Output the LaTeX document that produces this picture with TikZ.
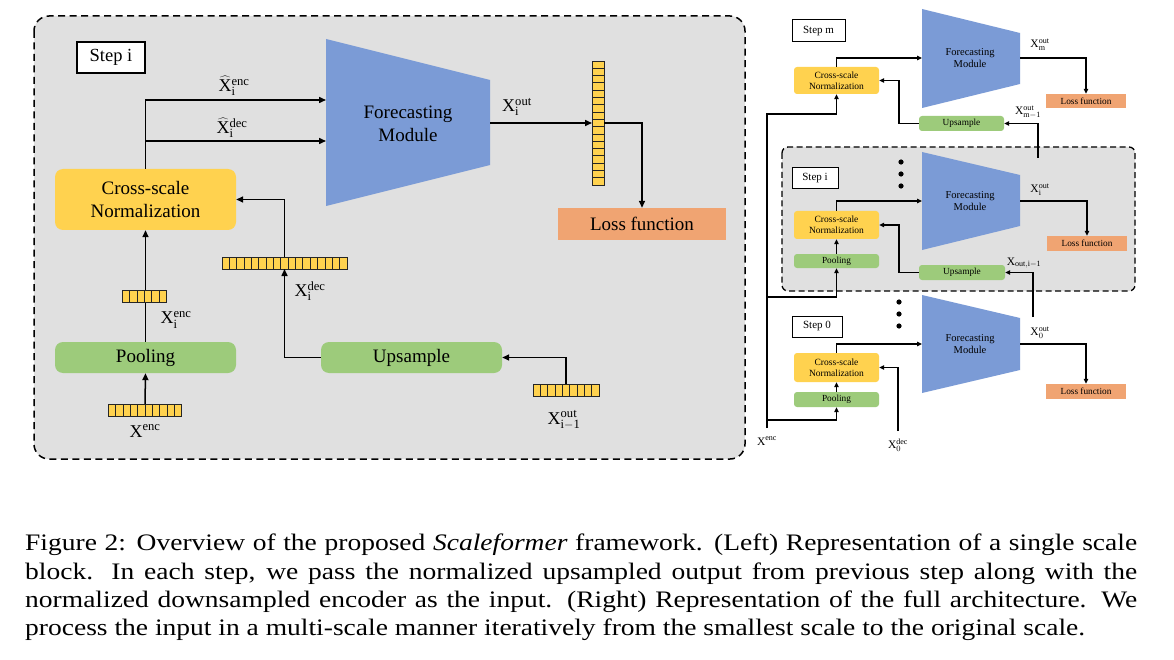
\documentclass[tikz,border=0pt]{standalone}
\usepackage{fontspec}
\setmainfont{Liberation Serif}
\usetikzlibrary{arrows.meta,calc}
\definecolor{panelgray}{HTML}{E0E0E0}
\definecolor{ynorm}{HTML}{FFD24F}
\definecolor{bfm}{HTML}{7B9BD6}
\definecolor{gboxc}{HTML}{9DCB7B}
\definecolor{oloss}{HTML}{F0A472}
\newcommand{\hvec}[4]{%
  \node[inner sep=0pt, outer sep=0pt, minimum width={#4*7.35pt}, minimum height=12pt] (#1) at (#2,#3) {};
  \foreach \k in {1,...,#4}{\draw[cellst] ($(#1.south west)+({(\k-1)*7.35},0)$) rectangle ++(7.35,-12);}%
}
\newcommand{\vvec}[4]{%
  \node[inner sep=0pt, outer sep=0pt, minimum width=12pt, minimum height={#4*7.3pt}] (#1) at (#2,#3) {};
  \foreach \k in {1,...,#4}{\draw[cellst] ($(#1.north west)+(0,{(\k-1)*7.3})$) rectangle ++(12,7.3);}%
}
\newcommand{\capfont}{\fontsize{27.5}{30}\selectfont}
\newcommand{\capjust}[1]{\scalebox{1}[0.86]{\capfont\hbox to 1112pt{#1}}}
\newcommand{\capnat}[1]{\scalebox{1}[0.86]{\capfont #1}}
\tikzset{
  cellst/.style={draw=black!85, fill=ynorm, line width=0.8pt},
  arrL/.style={line width=1.5pt, -{Triangle[length=7pt,width=6pt]}},
  arrR/.style={line width=1.2pt, -{Triangle[length=5pt,width=4.5pt]}},
  panelL/.style={draw, dashed, dash pattern=on 7pt off 4.5pt, line width=1.5pt, rounded corners=15pt, fill=panelgray},
  panelR/.style={draw, dashed, dash pattern=on 6pt off 3.5pt, line width=1.3pt, rounded corners=6pt, fill=panelgray},
  stepL/.style={draw, line width=1.3pt, fill=white, inner sep=0pt, font=\fontsize{18.5}{22}\selectfont},
  stepR/.style={draw, line width=1pt, fill=white, inner sep=0pt, font=\fontsize{11}{13}\selectfont},
  normL/.style={fill=ynorm, rounded corners=8pt, inner sep=0pt, align=center, font=\fontsize{19}{23}\selectfont},
  normR/.style={fill=ynorm, rounded corners=3pt, inner sep=0pt, align=center, font=\fontsize{9.5}{11}\selectfont},
  greenL/.style={fill=gboxc, rounded corners=8pt, inner sep=0pt, font=\fontsize{19}{23}\selectfont},
  greenR/.style={fill=gboxc, rounded corners=3pt, inner sep=0pt, font=\fontsize{9.3}{11}\selectfont},
  lossL/.style={fill=oloss, inner sep=0pt, font=\fontsize{19}{23}\selectfont},
  lossR/.style={fill=oloss, inner sep=0pt, font=\fontsize{9.3}{11}\selectfont},
  fmtextL/.style={align=center, font=\fontsize{19}{23}\selectfont},
  fmtextR/.style={align=center, font=\fontsize{10.5}{12.5}\selectfont},
  labL/.style={inner sep=0pt, font=\fontsize{18}{21}\selectfont},
  labR/.style={inner sep=0pt, font=\fontsize{11.5}{13}\selectfont},
  capline/.style={anchor=base west, inner sep=0pt},
}
\begin{document}
\begin{tikzpicture}[x=1pt,y=-1pt]
\useasboundingbox[fill=white] (0,0) rectangle (1174,660);

% ================= LEFT PANEL =================
\draw[panelL] (34,16) rectangle (745,459);
\node[stepL, minimum width=68pt, minimum height=31pt] (stepi) at (111,57.5) {Step i};

\fill[bfm] (326,39) -- (490,80) -- (490,165) -- (326,206) -- cycle;
\node[fmtextL] (fmL) at (408,123.5) {Forecasting\\Module};
\coordinate (fmLin1) at (326,100);
\coordinate (fmLin2) at (326,141);
\coordinate (fmLout) at (490,123);

\node[normL, minimum width=181pt, minimum height=61pt] (nL) at (145.5,199.5) {Cross-scale\\Normalization};
\node[greenL, minimum width=181pt, minimum height=31pt] (poolL) at (145.5,357.5) {Pooling};
\node[greenL, minimum width=181pt, minimum height=31pt] (upL) at (411.5,357.5) {Upsample};
\node[lossL, minimum width=168pt, minimum height=32pt] (lossL) at (642,224) {Loss function};

% connectors (drawn before vectors)
\draw[arrL] (nL.north) |- (fmLin1);
\draw[arrL] (nL.north |- fmLin2) -- (fmLin2);
\draw[arrL] (poolL.north) -- (nL.south);

\hvec{encI}{144.5}{296}{6}
\hvec{encV}{145}{410}{10}
\hvec{decV}{284.5}{263}{17}
\hvec{outP}{566}{390}{9}
\vvec{outV}{598}{123}{17}

\draw[arrL] (encV.north) -- (poolL.south);
\draw[arrL] (upL.west) -| (decV.south);
\draw[arrL] (decV.north) |- (nL.east);
\draw[arrL] (outP.north) |- (upL.east);
\draw[arrL] (fmLout) -- (outV.west);
\draw[arrL] (outV.east) -| (lossL.north);

\node[labL] (lhenc) at (234,86) {$\widehat{\mathrm{X}}_{\mathrm{i}}^{\mathrm{enc}}$};
\node[labL] (lhdec) at (232,128) {$\widehat{\mathrm{X}}_{\mathrm{i}}^{\mathrm{dec}}$};
\node[labL] (lout) at (517,107) {$\mathrm{X}_{\mathrm{i}}^{\mathrm{out}}$};
\node[labL] (lenci) at (176,320) {$\mathrm{X}_{\mathrm{i}}^{\mathrm{enc}}$};
\node[labL] (lenc) at (145,431) {$\mathrm{X}^{\mathrm{enc}}$};
\node[labL] (ldec) at (310,291) {$\mathrm{X}_{\mathrm{i}}^{\mathrm{dec}}$};
\node[labL] (lprev) at (564,420) {$\mathrm{X}_{\mathrm{i-1}}^{\mathrm{out}}$};

% ================= RIGHT PANEL =================
% step m
\node[stepR, minimum width=53pt, minimum height=22pt] (stepm) at (818.5,31) {Step m};
\fill[bfm] (922,9) -- (1020,33) -- (1020,84) -- (922,108) -- cycle;
\node[fmtextR] (fmM) at (970,58) {Forecasting\\Module};
\coordinate (fmMin) at (922,58);
\coordinate (fmMout) at (1020,58);
\node[normR, minimum width=85pt, minimum height=27pt] (nM) at (836.5,80.5) {Cross-scale\\Normalization};
\node[lossR, minimum width=80pt, minimum height=14pt] (lossM) at (1086,101) {Loss function};
\node[greenR, minimum width=85pt, minimum height=15pt] (upM) at (961.5,123.5) {Upsample};
\coordinate (bendR) at (899,0);

% step i panel
\draw[panelR] (782,147) rectangle (1135,291);
\foreach \yy in {162,174,186} \fill (901,\yy) circle (2.6);
\node[stepR, minimum width=46pt, minimum height=21pt] (stepi2) at (815,178.5) {Step i};
\fill[bfm] (922,152) -- (1020,175) -- (1020,226) -- (922,250) -- cycle;
\node[fmtextR] (fmI) at (970,201) {Forecasting\\Module};
\coordinate (fmIin) at (922,201);
\coordinate (fmIout) at (1020,201);
\node[normR, minimum width=85pt, minimum height=28pt] (nI) at (836.5,225) {Cross-scale\\Normalization};
\node[greenR, minimum width=85pt, minimum height=14pt] (poolI) at (836.5,261) {Pooling};
\node[lossR, minimum width=80pt, minimum height=15pt] (lossI) at (1087,243.5) {Loss function};
\node[greenR, minimum width=86pt, minimum height=15pt] (upI) at (962,272.5) {Upsample};

% step 0
\foreach \yy in {302,314,326} \fill (899,\yy) circle (2.6);
\node[stepR, minimum width=50pt, minimum height=21pt] (step0) at (817,326.5) {Step 0};
\fill[bfm] (922,295) -- (1020,318) -- (1020,370) -- (922,393) -- cycle;
\node[fmtextR] (fm0) at (970,344) {Forecasting\\Module};
\coordinate (fm0in) at (922,344);
\coordinate (fm0out) at (1020,344);
\node[normR, minimum width=85pt, minimum height=29pt] (n0) at (836.5,367.5) {Cross-scale\\Normalization};
\node[greenR, minimum width=85pt, minimum height=15pt] (pool0) at (836.5,399.5) {Pooling};
\node[lossR, minimum width=80pt, minimum height=15pt] (loss0) at (1086,391.5) {Loss function};

% right connectors
\draw[arrR] (nM.north) |- (fmMin);
\draw[arrR] (fmMout) -| (lossM.north);
\draw[arrR] (upM.west) -- (upM.west -| bendR) |- (nM.east);
\coordinate (outIup) at (1038,158);
\draw[arrR] (outIup) |- (upM.east);

\draw[arrR] (poolI.north) -- (nI.south);
\draw[arrR] (nI.north) |- (fmIin);
\draw[arrR] (fmIout) -| (lossI.north);
\draw[arrR] (upI.west) -- (upI.west -| bendR) |- (nI.east);
\coordinate (out0up) at (1033,317);
\draw[arrR] (out0up) |- (upI.east);

\draw[arrR] (pool0.north) -- (n0.south);
\draw[arrR] (n0.north) |- (fm0in);
\draw[arrR] (fm0out) -| (loss0.north);
\coordinate (dec0) at (898,431);
\draw[arrR] (dec0) |- (n0.east);

\coordinate (encR) at (767,428);
\coordinate (encTop) at (767,114);
\coordinate (encI) at (767,297);
\coordinate (enc0) at (767,420);
\draw[arrR] (encR) -- (encTop) -| (nM.south);
\draw[arrR] (encI) -| (poolI.south);
\draw[arrR] (enc0) -| (pool0.south);

\node[labR] (lmout) at (1040,45) {$\mathrm{X}_{\mathrm{m}}^{\mathrm{out}}$};
\node[labR] (lmprev) at (1028,112) {$\mathrm{X}_{\mathrm{m-1}}^{\mathrm{out}}$};
\node[labR] (liout) at (1040,190) {$\mathrm{X}_{\mathrm{i}}^{\mathrm{out}}$};
\node[labR] (liprev) at (1024,263) {$\mathrm{X}_{\mathrm{out,i-1}}$};
\node[labR] (l0out) at (1040,333) {$\mathrm{X}_{0}^{\mathrm{out}}$};
\node[labR] (l0dec) at (898,445) {$\mathrm{X}_{0}^{\mathrm{dec}}$};
\node[labR] (lRenc) at (767,441) {$\mathrm{X}^{\mathrm{enc}}$};

% ================= CAPTION =================
\node[capline] (cap1) at (25,550) {\capjust{Figure 2: Overview of the proposed \textit{Scaleformer} framework. (Left) Representation of a single scale}};
\node[capline] (cap2) at (25,579) {\capjust{block. In each step, we pass the normalized upsampled output from previous step along with the}};
\node[capline] (cap3) at (25,607) {\capjust{normalized downsampled encoder as the input. (Right) Representation of the full architecture. We}};
\node[capline] (cap4) at (25,635) {\capnat{process the input in a multi-scale manner iteratively from the smallest scale to the original scale.}};
\end{tikzpicture}
\end{document}
